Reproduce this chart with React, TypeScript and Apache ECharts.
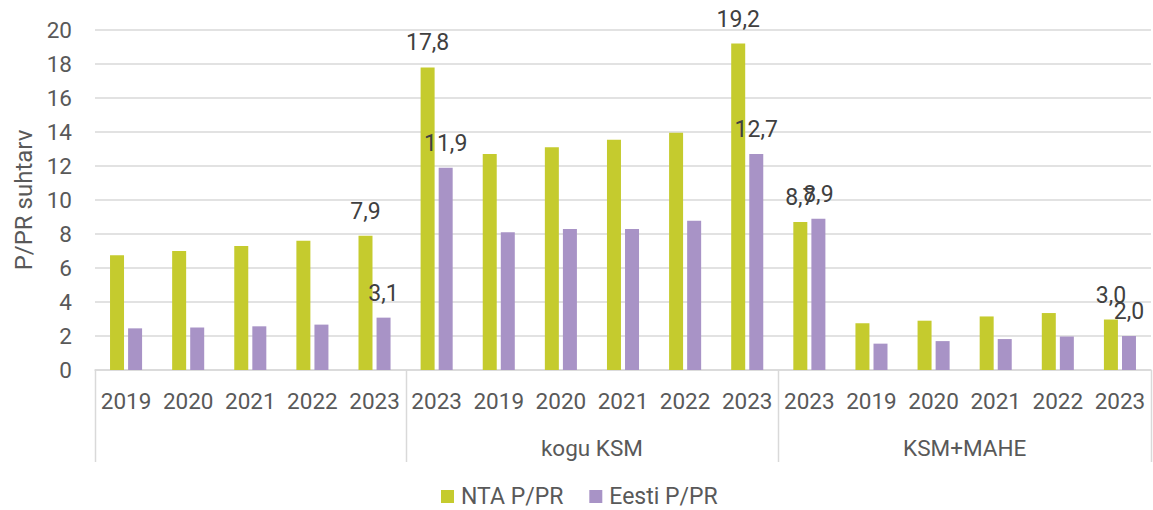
import React, { useEffect, useRef } from "react";
import * as echarts from "echarts";

const categories = ["2019", "2020", "2021", "2022", "2023", "2023", "2019", "2020", "2021", "2022", "2023", "2023", "2019", "2020", "2021", "2022", "2023"];
const groupNames = ["", "kogu KSM", "KSM+MAHE"];
const groupSizes = [5, 6, 6];
const ntaValues = [6.75, 7.0, 7.3, 7.6, 7.9, 17.8, 12.7, 13.1, 13.55, 13.95, 19.2, 8.7, 2.75, 2.9, 3.15, 3.35, 2.97];
const eestiValues = [2.45, 2.5, 2.57, 2.67, 3.08, 11.9, 8.1, 8.3, 8.3, 8.78, 12.7, 8.9, 1.55, 1.7, 1.82, 1.97, 2.0];
const labelledIndices = [4, 5, 10, 11, 16];
const seriesNames = ["NTA P/PR", "Eesti P/PR"];
const yTicks = [0, 20, 2];

const FONT = "Roboto";
const fmt = (v: number) => v.toFixed(1).replace(".", ",");

export default function App() {
  const ref = useRef<HTMLDivElement>(null);
  useEffect(() => {
    if (!ref.current) return;
    const chart = echarts.init(ref.current, null, { renderer: "svg" });
    const mkData = (vals: number[]) =>
      vals.map((v, i) => ({ value: v, label: { show: labelledIndices.includes(i) } }));
    chart.setOption({
      animation: false,
      textStyle: { fontFamily: FONT },
      grid: { left: 95, right: 2, top: 30, bottom: 140, containLabel: false },
      legend: {
        left: 441,
        top: 485,
        icon: "rect",
        itemWidth: 13,
        itemHeight: 13,
        itemGap: 26,
        padding: 0,
        textStyle: { fontFamily: FONT, fontSize: 23, color: "#595959", padding: [0, 0, 0, 2] },
        data: seriesNames,
      },
      xAxis: {
        type: "category",
        data: categories,
        axisLine: { show: true, lineStyle: { color: "#d9d9d9", width: 1.5 } },
        axisTick: { show: false },
        axisLabel: { interval: 0, margin: 19, fontFamily: FONT, fontSize: 22.5, color: "#595959" },
      },
      yAxis: {
        type: "value",
        min: yTicks[0],
        max: yTicks[1],
        interval: yTicks[2],
        name: "P/PR suhtarv",
        nameLocation: "middle",
        nameGap: 52,
        nameTextStyle: { fontFamily: FONT, fontSize: 24, color: "#595959" },
        axisLine: { show: false },
        axisTick: { show: false },
        axisLabel: { margin: 23, fontFamily: FONT, fontSize: 22.5, color: "#595959" },
        splitLine: { lineStyle: { color: "#d9d9d9", width: 1.5 } },
      },
      series: [
        {
          name: seriesNames[0],
          type: "bar",
          data: mkData(ntaValues),
          barWidth: 14,
          barGap: "29%",
          itemStyle: { color: "#c5cb2e" },
          label: {
            position: "top",
            distance: 13,
            fontFamily: FONT,
            fontSize: 23,
            color: "#404040",
            formatter: (p: any) => fmt(p.value),
          },
        },
        {
          name: seriesNames[1],
          type: "bar",
          data: mkData(eestiValues),
          barWidth: 14,
          barGap: "29%",
          itemStyle: { color: "#a893c6" },
          label: {
            position: "top",
            distance: 13,
            fontFamily: FONT,
            fontSize: 23,
            color: "#404040",
            formatter: (p: any) => fmt(p.value),
          },
        },
      ],
    });

    // Group separators and group labels, positioned via the axis scale
    const px = (i: number) => chart.convertToPixel({ xAxisIndex: 0 }, i) as number;
    const y0 = chart.convertToPixel({ yAxisIndex: 0 }, 0) as number;
    const band = px(1) - px(0);
    const boundaryX = (b: number) => px(b) - band / 2;
    const graphics: any[] = [];
    let start = 0;
    const bounds: number[] = [0];
    groupSizes.forEach((s) => {
      start += s;
      bounds.push(start);
    });
    bounds.forEach((b) => {
      const x = Math.round(boundaryX(b)) + 0.5;
      graphics.push({
        type: "line",
        shape: { x1: x, y1: y0, x2: x, y2: y0 + 92 },
        style: { stroke: "#d9d9d9", lineWidth: 1.5 },
        silent: true,
      });
    });
    groupNames.forEach((name, g) => {
      if (!name) return;
      const cx = (boundaryX(bounds[g]) + boundaryX(bounds[g + 1])) / 2;
      graphics.push({
        type: "text",
        x: cx,
        y: y0 + 78,
        style: {
          text: name,
          fontFamily: FONT,
          fontSize: 22.5,
          fill: "#595959",
          align: "center",
          verticalAlign: "middle",
        },
        silent: true,
      });
    });
    chart.setOption({ graphic: graphics });

    return () => chart.dispose();
  }, []);
  return (
    <div
      ref={ref}
      style={{ position: "fixed", left: 0, top: 0, width: 1153, height: 510, background: "#fff" }}
    />
  );
}
